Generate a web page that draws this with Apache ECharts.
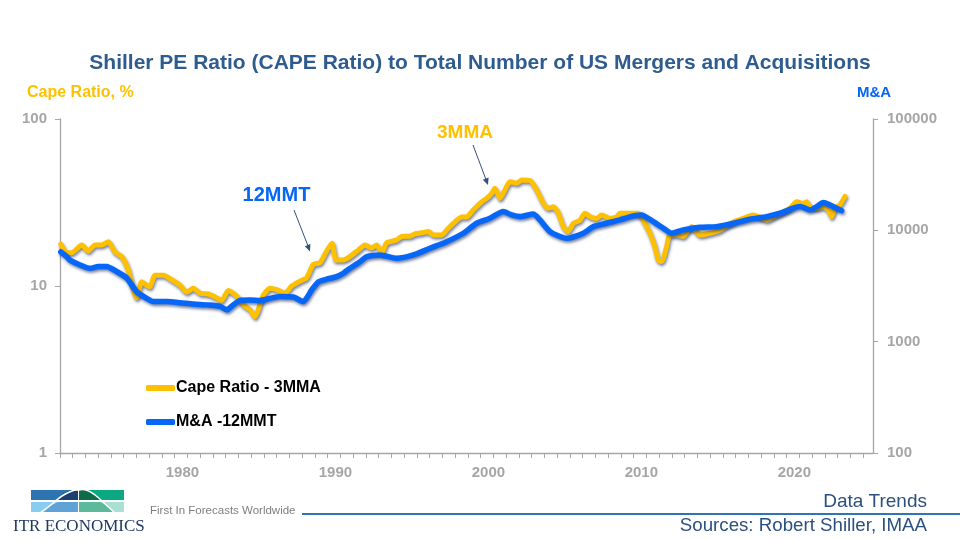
<!DOCTYPE html>
<html>
<head>
<meta charset="utf-8">
<script src="https://cdn.jsdelivr.net/npm/echarts@6/dist/echarts.min.js"></script>
<style>
html,body{margin:0;padding:0;background:#fff;}
#chart{width:960px;height:540px;}
</style>
</head>
<body>
<div id="chart"></div>
<script>
// ---- Data (x = position on the chart's year scale) ----
var capeDates = [1972.05,1972.44,1972.76,1973.42,1973.85,1974.29,1974.73,1975.16,1975.59,1976.03,1976.46,1976.79,1977.01,1977.34,1977.67,1977.88,1978.21,1978.75,1979.30,1979.84,1980.28,1980.71,1981.15,1981.69,1982.13,1982.57,1983.00,1983.55,1983.98,1984.42,1984.75,1984.96,1985.29,1985.73,1986.16,1986.71,1987.14,1987.69,1988.12,1988.56,1988.99,1989.43,1989.78,1990.04,1990.52,1990.95,1991.50,1991.93,1992.37,1992.70,1993.03,1993.35,1994.01,1994.33,1994.88,1995.20,1995.75,1996.07,1996.40,1996.95,1997.38,1997.82,1998.25,1998.58,1999.01,1999.56,1999.89,2000.22,2000.43,2000.76,2001.08,2001.41,2001.85,2002.18,2002.72,2003.16,2003.59,2003.92,2004.24,2004.57,2004.90,2005.22,2005.55,2005.99,2006.31,2006.64,2007.08,2007.41,2007.95,2008.39,2008.60,2009.25,2009.80,2010.12,2010.56,2010.88,2011.10,2011.33,2011.65,2011.86,2012.31,2012.74,2013.29,2013.83,2014.48,2015.14,2016.01,2016.88,2017.31,2018.19,2018.62,2019.27,2019.71,2020.15,2020.58,2020.80,2021.02,2021.46,2021.89,2022.22,2022.44,2022.66,2022.98,2023.31];
var capeRatio = [17.8,15.8,15.8,17.6,16.2,17.6,17.6,18.4,16.0,15.0,12.5,9.5,8.5,10.6,10.1,9.9,11.6,11.6,10.9,10.1,9.2,9.7,9.05,8.95,8.6,8.2,9.4,8.7,7.7,7.2,6.55,7.2,8.8,9.7,9.5,9.05,10.0,10.7,11.2,13.5,13.8,16.2,18.0,14.3,14.3,15.0,16.4,17.6,16.9,17.6,15.8,18.1,18.85,19.8,19.9,20.5,20.9,21.2,20.2,20.2,22.2,24.2,25.9,25.9,28.5,31.9,33.5,35.9,38.5,33.5,37.6,42.1,41.2,43.1,42.8,37.6,31.3,29.2,29.8,27.3,22.7,21.2,23.7,24.8,27.3,26.0,25.4,26.6,25.4,25.9,27.3,27.3,27.3,24.8,20.7,17.2,14.3,14.0,17.2,20.2,20.2,19.8,22.6,20.2,20.7,21.6,24.2,25.9,26.6,24.8,25.9,27.8,29.2,31.9,31.2,31.9,29.8,29.2,29.8,28.5,26.0,29.2,30.6,34.4];

var maDates = [1972.05,1972.44,1972.65,1973.31,1973.96,1974.50,1975.05,1975.71,1976.36,1977.01,1977.67,1978.10,1978.97,1979.84,1980.71,1981.59,1982.46,1982.90,1983.33,1983.76,1984.42,1985.07,1985.73,1986.38,1987.25,1987.90,1988.45,1988.88,1989.43,1990.08,1990.52,1990.95,1991.61,1992.05,1992.92,1994.01,1995.10,1996.18,1997.27,1998.36,1999.23,2000.10,2000.97,2001.52,2002.07,2002.93,2003.37,2004.03,2005.12,2006.20,2006.86,2007.73,2008.60,2009.47,2010.02,2010.78,2011.44,2011.98,2012.74,2013.83,2014.92,2016.01,2017.10,2018.19,2019.06,2019.93,2020.37,2021.02,2021.46,2021.89,2022.33,2022.76,2023.09];
var maCount = [6400,5800,5400,4890,4560,4730,4740,4260,3730,2810,2450,2290,2290,2240,2180,2140,2080,1930,2140,2350,2370,2340,2450,2550,2520,2290,2910,3440,3640,3840,4120,4560,5230,5800,6010,5610,6010,6900,7910,9420,11580,12850,14730,13750,13280,14030,12400,9730,8490,9420,10800,11580,12400,13470,13750,11970,10450,9420,10090,10660,10800,11580,12580,13280,14250,15800,16330,15250,16330,17740,16910,15800,15030];

var xLabelYears = [1980, 1990, 2000, 2010, 2020];
var seriesNames = ['Cape Ratio - 3MMA', 'M&A -12MMT'];
var titleText = 'Shiller PE Ratio (CAPE Ratio) to Total Number of US Mergers and Acquisitions';

// ---- Build ----
function pairs(xs, ys){ var out=[]; for(var i=0;i<xs.length;i++){ out.push([xs[i], ys[i]]); } return out; }
function plain(v){ return String(Math.round(v)); }
var xMin = 1972, xMax = 2025.14;
var tickVals = [];
for (var t = xMin; t <= xMax + 1e-6; t += 10/12) tickVals.push(+t.toFixed(4));

var FONT = 'Arial, Liberation Sans, sans-serif';
var GOLD = '#FFC000', BLUE = '#0566F7', GRAY = '#A6A6A6';
var shadow = { shadowColor: 'rgba(10,30,80,0.55)', shadowBlur: 3, shadowOffsetX: 1, shadowOffsetY: 2 };

var chart = echarts.init(document.getElementById('chart'), null, {renderer: 'canvas'});
var option = {
  backgroundColor: '#fff',
  animation: false,
  title: {
    text: titleText, left: 'center', top: 48,
    textStyle: { fontFamily: FONT, fontSize: 21, fontWeight: 'bold', color: '#2F5C8F' }
  },
  grid: { left: 60, right: 87, top: 119, bottom: 87, containLabel: false },
  legend: {
    orient: 'vertical', left: 146, top: 380, itemGap: 18, itemWidth: 29, itemHeight: 6,
    icon: 'roundRect', padding: 0,
    textStyle: { fontFamily: FONT, fontSize: 16, fontWeight: 'bold', color: '#000', padding: [0,0,0,-4] },
    data: seriesNames
  },
  xAxis: {
    type: 'value', min: xMin, max: xMax,
    axisLine: { show: true, onZero: false, lineStyle: { color: GRAY, width: 1.3 } },
    axisTick: { show: true, inside: false, length: 5, customValues: tickVals, lineStyle: { color: GRAY } },
    axisLabel: { customValues: xLabelYears, formatter: plain, margin: 12, color: GRAY, fontSize: 15, fontWeight: 'bold', fontFamily: FONT },
    splitLine: { show: false }
  },
  yAxis: [{
    type: 'log', logBase: 10, min: 1, max: 100, position: 'left',
    axisLine: { show: true, onZero: false, lineStyle: { color: GRAY, width: 1.3 } },
    axisTick: { show: true, length: 5, lineStyle: { color: GRAY } },
    axisLabel: { formatter: plain, margin: 13, color: GRAY, fontSize: 15, fontWeight: 'bold', fontFamily: FONT },
    splitLine: { show: false }
  }, {
    type: 'log', logBase: 10, min: 100, max: 100000, position: 'right',
    axisLine: { show: true, onZero: false, lineStyle: { color: GRAY, width: 1.3 } },
    axisTick: { show: true, length: 5, lineStyle: { color: GRAY } },
    axisLabel: { formatter: plain, margin: 14, color: GRAY, fontSize: 15, fontWeight: 'bold', fontFamily: FONT },
    splitLine: { show: false }
  }],
  series: [{
    name: seriesNames[0], type: 'line', yAxisIndex: 0, data: pairs(capeDates, capeRatio),
    showSymbol: false, smooth: 0.2, color: GOLD,
    lineStyle: Object.assign({ width: 5, color: GOLD, join: 'round', cap: 'round' }, shadow)
  }, {
    name: seriesNames[1], type: 'line', yAxisIndex: 1, data: pairs(maDates, maCount),
    showSymbol: false, smooth: 0.2, color: BLUE,
    lineStyle: Object.assign({ width: 5.5, color: BLUE, join: 'round', cap: 'round' }, shadow)
  }],
  graphic: [
    { type: 'text', x: 27, y: 93, style: { text: 'Cape Ratio, %', fill: GOLD, font: 'bold 16px ' + FONT, textVerticalAlign: 'middle' } },
    { type: 'text', x: 857, y: 93, style: { text: 'M&A', fill: BLUE, font: 'bold 15px ' + FONT, textVerticalAlign: 'middle' } },
    // annotations
    { type: 'text', x: 465, y: 133, style: { text: '3MMA', fill: GOLD, font: 'bold 19px ' + FONT, textAlign: 'center', textVerticalAlign: 'middle' } },
    { type: 'line', shape: { x1: 473, y1: 145, x2: 486.5, y2: 181 }, style: { stroke: '#34527A', lineWidth: 1 } },
    { type: 'polygon', shape: { points: [[488, 185], [488.6, 177.6], [482.8, 179.7]] }, style: { fill: '#34527A' } },
    { type: 'text', x: 276.5, y: 195, style: { text: '12MMT', fill: BLUE, font: 'bold 20px ' + FONT, textAlign: 'center', textVerticalAlign: 'middle' } },
    { type: 'line', shape: { x1: 294, y1: 210, x2: 308.6, y2: 247.5 }, style: { stroke: '#34527A', lineWidth: 1 } },
    { type: 'polygon', shape: { points: [[310, 251.5], [310.4, 244.1], [304.8, 246.2]] }, style: { fill: '#34527A' } },
    // footer: logo
    { type: 'rect', shape: { x: 31, y: 490, width: 47, height: 10 }, style: { fill: '#2E74B0' } },
    { type: 'polygon', shape: { points: [[56,500],[64,493],[72,490],[78,490],[78,500]] }, style: { fill: '#1B3F70' } },
    { type: 'rect', shape: { x: 79, y: 490, width: 45, height: 10 }, style: { fill: '#0CA882' } },
    { type: 'polygon', shape: { points: [[79,490],[86,490],[94,494],[101,500],[79,500]] }, style: { fill: '#0F6A47' } },
    { type: 'rect', shape: { x: 31, y: 502, width: 47, height: 10 }, style: { fill: '#8ACCF0' } },
    { type: 'polygon', shape: { points: [[44,512],[52,505],[58,502],[78,502],[78,512]] }, style: { fill: '#5FA3D6' } },
    { type: 'rect', shape: { x: 79, y: 502, width: 45, height: 10 }, style: { fill: '#A9E0D3' } },
    { type: 'polygon', shape: { points: [[79,502],[100,502],[107,505],[114,512],[79,512]] }, style: { fill: '#5DB99B' } },
    { type: 'polyline', shape: { points: [[40,513],[52,504],[62,496],[72,491],[78,490],[86,490],[95,495],[104,503],[114,512]], smooth: 0.4 }, style: { stroke: '#fff', lineWidth: 1.5, fill: null } },
    { type: 'text', x: 13, y: 527, style: { text: 'ITR ECONOMICS', fill: '#1F3864', font: '17px Liberation Serif, DejaVu Serif, serif', textVerticalAlign: 'middle' } },
    { type: 'text', x: 150, y: 511, style: { text: 'First In Forecasts Worldwide', fill: '#7F7F7F', font: '11.5px Liberation Sans, Arial, sans-serif', textVerticalAlign: 'middle' } },
    { type: 'line', shape: { x1: 302, y1: 514, x2: 960, y2: 514 }, style: { stroke: '#2E75B6', lineWidth: 2 } },
    { type: 'text', x: 927, y: 502, style: { text: 'Data Trends', fill: '#2B5080', font: '19px Liberation Sans, Arial, sans-serif', textAlign: 'right', textVerticalAlign: 'middle' } },
    { type: 'text', x: 927, y: 526, style: { text: 'Sources: Robert Shiller, IMAA', fill: '#2B5080', font: '18.7px Liberation Sans, Arial, sans-serif', textAlign: 'right', textVerticalAlign: 'middle' } }
  ]
};
chart.setOption(option);
</script>
</body>
</html>
